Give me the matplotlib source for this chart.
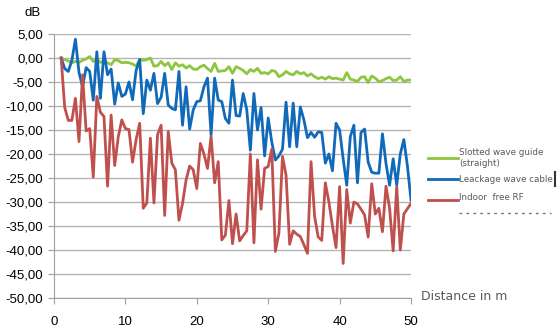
import numpy as np
import matplotlib.pyplot as plt
from matplotlib.lines import Line2D
from matplotlib.ticker import FuncFormatter

# distance samples every 0.5 m, from 1 m to 50 m
distance = np.arange(1, 50.5, 0.5)

slotted = [0, -0.35, -0.6, -1.0, -0.7, -0.9, -0.5, -0.2, 0.3, -0.7,
           -0.35, -0.9, -0.7, -1.0, -1.4, -0.35, -0.55, -1.0, -0.9, -1.0,
           -1.25, -1.7, -0.35, -0.5, -0.35, 0, -1.7, -1.6, -0.7, -1.6,
           -1.0, -2.4, -1.0, -1.7, -1.4, -2.1, -1.6, -2.3, -2.4,
           -1.8, -1.5, -2.2, -2.8, -1.1, -2.8, -2.7, -2.6, -1.8, -3.2,
           -1.8, -2.15, -2.6, -3.3, -2.4, -2.8, -2.15, -3.2, -3.05, -3.3,
           -2.6, -2.8, -3.9, -3.5, -2.8, -3.3, -3.5, -2.8, -3.3, -3.05,
           -3.75, -3.3, -3.9, -4.3, -4.0, -4.4, -3.9, -4.3, -4.2, -4.4,
           -4.6, -3.05, -4.4, -4.6, -4.9, -4.0, -3.9, -5.1, -3.75, -4.2,
           -4.9, -4.7, -4.3, -4.0, -4.7, -4.6, -3.9, -4.9, -4.6, -4.6]

leakage = [0, -2.2, -2.8, -0.5, 3.9, -3, -6, -2, -2.8, -8.8,
           1.3, -8.4, 1.3, -3.5, -2.3, -9.6, -5.2, -8, -7.5, -5,
           -8.7, -2.6, -0.3, -11.6, -4.6, -6.7, -3.2, -9.5, -8.2, -3.2,
           -9.8, -10.5, -10.8, -2.8, -14, -6, -14.8, -10.8, -9.1, -8.9,
           -6, -4.2, -16, -4.2, -8.75, -9.1, -12.6, -13.6, -4.6, -12,
           -12.1, -7.4, -10.8, -19.2, -7.4, -15, -10.3, -20.4, -12.5, -17.5,
           -21.25, -20.4, -19, -9.2, -18.5, -9.4, -18.5, -10.2, -12.9, -16.6,
           -15.5, -16.5, -15.4, -15.5, -21.9, -20, -23.5, -13.6, -15, -21,
           -26.5, -16.4, -14, -26, -15.5, -14.8, -21.7, -23.8, -24, -24,
           -15.8, -22, -26.5, -21, -26.5, -20, -17, -22.5, -29.6]

indoor = [0, -10.3, -13, -13, -8.4, -17.4, -3.5, -15.2, -14.7, -24.8,
          -8, -11.3, -12.2, -26.7, -11.9, -22.4, -16.4, -12.9, -14.7, -14.9,
          -21.7, -17, -13.6, -31.3, -30.2, -16.7, -30.2, -16, -14, -32.8,
          -15.3, -21.9, -23.3, -33.8, -30.3, -25.4, -22.5, -23.3, -27.2, -17.8,
          -20, -23, -16.3, -26, -21.6, -37.9, -36.9, -29.7, -38.7, -32.5,
          -38.1, -37, -36, -20, -38.5, -21.2, -31.5, -23, -22.6, -19,
          -40.3, -36.5, -20.5, -24.4, -38.8, -36, -36.7, -37.2, -38.9, -40.7,
          -21.6, -33, -37.3, -38, -26, -30, -35, -39.5, -26.8, -42.8,
          -27.4, -34.4, -30, -30.4, -31.5, -32.7, -37.3, -26.2, -32.5, -31.3,
          -36.2, -26.7, -31.3, -40.2, -26.8, -40, -32.5, -31.4, -30.3]

labels = ['Slotted wave guide\n(straight)', 'Leackage wave cable', 'Indoor  free RF']
colors = ['#8DC63F', '#1169BA', '#C0504D']

W, H = 560, 335
fig = plt.figure(figsize=(W / 100, H / 100), dpi=100)
ax = fig.add_axes([54 / W, 1 - 298 / H, (411 - 54) / W, (298 - 34) / H])

for vals, c in zip([slotted, leakage, indoor], colors):
    ax.plot(distance, vals, color=c, linewidth=2.0, solid_joinstyle='round')

ax.set_xlim(0, 50)
ax.set_ylim(-50, 5)
ax.set_xticks(range(0, 51, 10))
ax.set_yticks(range(-50, 6, 5))
ax.yaxis.set_major_formatter(FuncFormatter(lambda v, p: f'{v:.2f}'.replace('.', ',')))
ax.grid(axis='y', color='#B4B4B4', linewidth=1.0)
ax.set_axisbelow(True)
for s in ['top', 'right']:
    ax.spines[s].set_visible(False)
ax.spines['left'].set_color('#A0A0A0')
ax.spines['bottom'].set_color('#A0A0A0')
ax.tick_params(axis='both', colors='#A0A0A0', labelcolor='black', length=4,
               labelsize=9.5)
ax.tick_params(axis='x', pad=9)
ax.tick_params(axis='y', pad=4)
for t in ax.get_xticklabels() + ax.get_yticklabels():
    t.set_fontfamily('Liberation Sans')

fig.text(33 / W, 1 - 13 / H, 'dB', ha='center', va='center',
         fontsize=9.5, family='Liberation Sans')
fig.text(421 / W, 1 - 296 / H, 'Distance in m', ha='left', va='center',
         fontsize=9, color='#595959', family='DejaVu Sans')

# legend drawn by hand
leg_y = [158, 179, 200]
txt_y = [158, 179, 197]
for lab, c, ly, ty in zip(labels, colors, leg_y, txt_y):
    fig.add_artist(Line2D([428 / W, 458 / W], [1 - ly / H, 1 - ly / H],
                          color=c, linewidth=2.0, transform=fig.transFigure))
    fig.text(459 / W, 1 - ty / H, lab, ha='left', va='center', fontsize=6.3,
             color='#595959', family='DejaVu Sans', linespacing=1.25)
fig.add_artist(Line2D([555 / W, 555 / W], [1 - 172 / H, 1 - 186 / H],
                      color='#333333', linewidth=1.5, transform=fig.transFigure))
fig.add_artist(Line2D([459 / W, 551 / W], [1 - 213 / H, 1 - 213 / H],
                      color='#777777', linewidth=1.0, linestyle=(0, (2, 3)),
                      transform=fig.transFigure))

fig.savefig('out.png', dpi=100)
